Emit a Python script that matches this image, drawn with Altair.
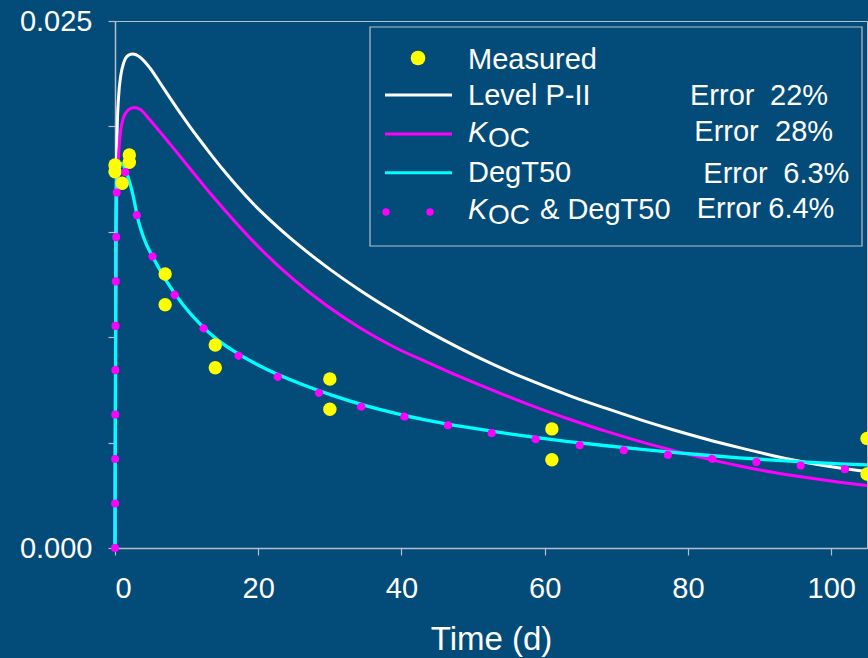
import altair as alt
import pandas as pd

# ---------------- data ----------------
level_t = [0, 0.1, 0.2, 0.3, 0.5, 0.8, 1.2, 1.9, 2.5, 3.5, 4.9, 6.3, 7.7, 9.1, 10.5,
           11.9, 13.3, 15.1, 17.0, 19.3, 22.0, 24.9, 29.5, 34.2, 38.8, 43.5, 48.1, 52.8,
           57.4, 64.0, 68.6, 73.3, 77.9, 82.6, 87.2, 91.9, 96.5, 101.2, 105]
level_v = [0, 0.0120, 0.0175, 0.0198, 0.0214, 0.0224, 0.0230, 0.02338, 0.02343, 0.02328,
           0.02276, 0.02206, 0.02134, 0.02064, 0.01997, 0.01933, 0.01871, 0.01794, 0.01718,
           0.01633, 0.01545, 0.01458, 0.01335, 0.01223, 0.01124, 0.01031, 0.00948, 0.00871,
           0.00803, 0.00716, 0.00662, 0.00609, 0.00561, 0.00516, 0.00476, 0.00438, 0.00406,
           0.00380, 0.00363]

koc_t = [0, 0.1, 0.2, 0.3, 0.5, 0.7, 1.16, 1.86, 2.7, 3.49, 4.88, 6.28, 7.67, 9.07, 10.46,
         11.86, 13.26, 16.6, 20.23, 24.88, 29.54, 34.18, 38.83, 44.41, 48.14, 53.72, 57.44,
         61.0, 63.95, 68.61, 73.25, 77.9, 82.56, 87.2, 91.85, 96.51, 101.16, 105]
koc_v = [0, 0.009, 0.014, 0.0168, 0.0186, 0.0195, 0.0204, 0.02078, 0.0209, 0.02081, 0.0203,
         0.01974, 0.01917, 0.01859, 0.01800, 0.01742, 0.01684, 0.01554, 0.01422, 0.01275,
         0.01150, 0.01045, 0.00956, 0.00869, 0.00813, 0.00735, 0.00685, 0.00640, 0.00605,
         0.00553, 0.00506, 0.00463, 0.00424, 0.00389, 0.00359, 0.00334, 0.00312, 0.00296]

deg_t = [0, 0.05, 0.1, 0.15, 0.25, 0.5, 0.9, 1.63, 2.55, 3.17, 3.95, 5.62, 7.21, 9.53,
         11.86, 14.19, 16.5, 21.17, 25.81, 30.46, 35.12, 39.77, 44.41, 49.07, 53.72, 58.37,
         63.02, 68.61, 73.25, 77.9, 82.56, 87.2, 91.85, 96.51, 101.16, 105]
deg_v = [0, 0.006, 0.011, 0.0145, 0.0176, 0.0181, 0.01825, 0.01778, 0.01668, 0.01565,
         0.01477, 0.01359, 0.01265, 0.01153, 0.01063, 0.00991, 0.00936, 0.00848, 0.00780,
         0.00723, 0.00674, 0.00634, 0.00601, 0.00573, 0.00548, 0.00526, 0.00506, 0.00485,
         0.00469, 0.00454, 0.00440, 0.00428, 0.00417, 0.00407, 0.00399, 0.00394]

both_t = [0, 0.02, 0.045, 0.07, 0.14, 0.24, 0.45, 0.8, 1.49, 3.17, 5.62, 9.63, 15.21,
          21.45, 27.67, 33.86, 40.09, 46.35, 52.5, 58.74, 64.99, 71.2, 77.44, 83.67,
          89.86, 96.09, 102.32, 105]
both_v = [0, 0.004, 0.0075, 0.0105, 0.0137, 0.0169, 0.0178, 0.01836, 0.01778, 0.01565,
          0.01355, 0.01143, 0.00962, 0.00833, 0.00746, 0.00675, 0.00626, 0.00583, 0.00546,
          0.00516, 0.00487, 0.00463, 0.00441, 0.00422, 0.00407, 0.0039, 0.00373, 0.00365]

meas_t = [0, 0, 1, 2, 2, 7, 7, 14, 14, 30, 30, 61, 61, 105, 105]
meas_v = [0.01817, 0.01785, 0.0173, 0.01864, 0.0183, 0.0130, 0.01154, 0.00963, 0.00855,
          0.00802, 0.00658, 0.00565, 0.00419, 0.0052, 0.00351]

series_names = ["Measured", "Level P-II", "KOC", "DegT50", "KOC & DegT50"]
series_errors = ["", "22%", "28%", "6.3%", "6.4%"]
error_word = "Error"

x_ticks = [0, 20, 40, 60, 80, 100]
y_ticks = [0, 0.005, 0.010, 0.015, 0.020, 0.025]

# ---------------- styling ----------------
BG = "#034b78"
AXIS = "#b4c0cc"
FONT = "Liberation Sans"
WHITE = "#ffffff"
MAGENTA = "#ff00ff"
CYAN = "#00ffff"
YELLOW = "#ffff00"

X = alt.X("t:Q", scale=alt.Scale(domain=[0, 105], nice=False, zero=False),
          axis=alt.Axis(values=x_ticks, format="d", title="Time (d)"))
Y = alt.Y("v:Q", scale=alt.Scale(domain=[0, 0.025], nice=False),
          axis=alt.Axis(values=y_ticks, title=None,
                        labelExpr="(datum.value < 0.0001 || datum.value > 0.0249) ? format(datum.value, '.3f') : ''"))


def series(ts, vs):
    return pd.DataFrame({"t": ts, "v": vs})


lvl = alt.Chart(series(level_t, level_v)).mark_line(
    color=WHITE, strokeWidth=3, interpolate="monotone").encode(x=X, y=Y)
koc = alt.Chart(series(koc_t, koc_v)).mark_line(
    color=MAGENTA, strokeWidth=3, interpolate="monotone").encode(x=X, y=Y)
deg = alt.Chart(series(deg_t, deg_v)).mark_line(
    color=CYAN, strokeWidth=3.3, interpolate="monotone").encode(x=X, y=Y)
meas = alt.Chart(series(meas_t, meas_v)).mark_circle(
    color=YELLOW, opacity=1, size=180).encode(x=X, y=Y)
both = alt.Chart(series(both_t, both_v)).mark_line(
    color=MAGENTA, strokeWidth=8, strokeCap="round", strokeDash=[0.1, 44.3],
    interpolate="monotone").encode(x=X, y=Y)

# ---------------- hand-made legend ----------------
one = alt.Data(values=[{"k": 0}])
OX, OY = 115, 21  # plot origin in page pixels


def px(x):
    return alt.value(x - OX)


def py(y):
    return alt.value(y - OY)


def txt(s, x, y, italic=False, size=29):
    return alt.Chart(one).mark_text(
        text=s, align="left", baseline="alphabetic", font=FONT, fontSize=size,
        fontStyle="italic" if italic else "normal", color=WHITE).encode(x=px(x), y=py(y))


def hline(color, x1, x2, y):
    return alt.Chart(one).mark_rule(color=color, strokeWidth=3).encode(
        x=px(x1), x2=px(x2), y=py(y))


def dot(color, x, y, size):
    return alt.Chart(one).mark_circle(color=color, opacity=1, size=size).encode(
        x=px(x), y=py(y))


legend = [
    alt.Chart(one).mark_rect(fill=BG, stroke=AXIS, strokeWidth=1.2).encode(
        x=px(370), x2=px(862), y=py(27), y2=py(246)),
    dot(YELLOW, 418, 58, 215),
    hline(WHITE, 385, 452, 95),
    hline(MAGENTA, 385, 452, 134),
    hline(CYAN, 385, 452, 172.7),
    dot(MAGENTA, 386, 212, 55),
    dot(MAGENTA, 430, 212, 55),
    txt(series_names[0], 468, 69),
    txt(series_names[1], 468, 105),
    txt(series_names[2][0], 468, 141.5, italic=True),
    txt(series_names[2][1:], 488, 146.5, size=28),
    txt(series_names[3], 468, 181.7),
    txt(series_names[4][0], 468, 218.5, italic=True),
    txt(series_names[4][1:3], 488, 223.5, size=28),
    txt(series_names[4][4:], 540, 218.5),
    txt(error_word, 690, 105), txt(series_errors[1], 770, 105),
    txt(error_word, 694.3, 141), txt(series_errors[2], 775, 141),
    txt(error_word, 703.3, 182.5), txt(series_errors[3], 783.3, 182.5),
    txt(error_word, 696.7, 218.3), txt(series_errors[4], 768.3, 218.3),
]

chart = alt.layer(lvl, koc, deg, meas, both, *legend).properties(
    width=752, height=527,
    padding={"left": 115, "top": 21, "right": 1, "bottom": 110},
    autosize=alt.AutoSizeParams(type="none"),
    background=BG,
).configure_view(
    stroke=AXIS, strokeWidth=1, fill=None
).configure_axis(
    grid=False, domainColor=AXIS, tickColor=AXIS, domainWidth=1.5, tickWidth=1.2,
    tickSize=7, labelColor=WHITE, labelFont=FONT, labelFontSize=29,
    titleColor=WHITE, titleFont=FONT, titleFontSize=33, titleFontWeight="normal",
).configure_axisX(
    labelPadding=19, titlePadding=20
).configure_axisY(
    labelPadding=16
)

chart.save("out.html", embed_options={"renderer": "svg", "actions": False})
